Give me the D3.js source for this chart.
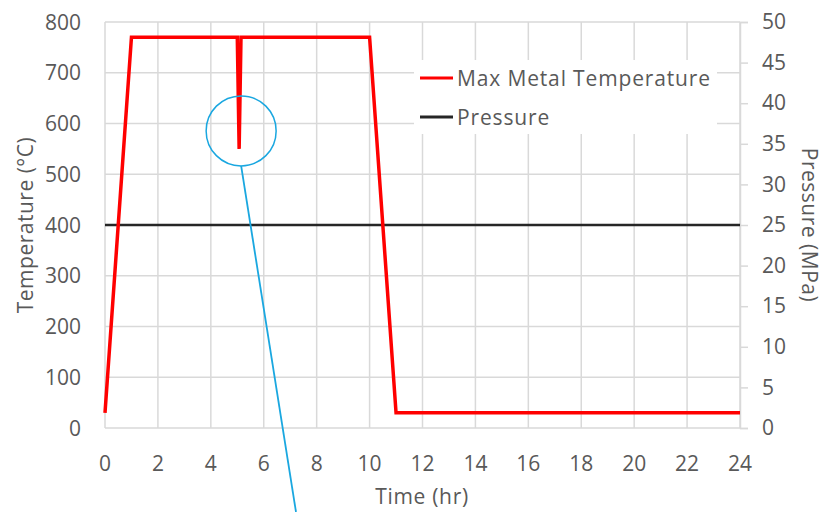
<!DOCTYPE html>
<html>
<script src='https://d3js.org/d3.v7.min.js'></script>
<style>
body {margin: 0; background: white;}
text {font-family: 'Open Sans', sans-serif; fill: #595959;}
</style>
<body onload='init()'>
<script>
// temperature profile (hr, °C)
var timeHr = [0, 1, 5, 5.07, 5.14, 10, 11, 24];
var metalTemp = [30, 770, 770, 550, 770, 770, 30, 30];
// pressure (hr, MPa)
var pressTime = [0, 24];
var pressure = [25, 25];

var xTicks = [0, 2, 4, 6, 8, 10, 12, 14, 16, 18, 20, 22, 24];
var tempTicks = [0, 100, 200, 300, 400, 500, 600, 700, 800];
var pressTicks = [0, 5, 10, 15, 20, 25, 30, 35, 40, 45, 50];
var seriesNames = ['Max Metal Temperature', 'Pressure'];

function init() {
  var svg = d3.select('body').append('svg')
    .attr('width', 827)
    .attr('height', 512);

  var x = d3.scaleLinear().domain([0, 24]).range([105, 740]);
  var y = d3.scaleLinear().domain([0, 800]).range([428, 22]);
  var y2 = d3.scaleLinear().domain([0, 50]).range([428, 22]);

  // grid
  svg.append('g').selectAll('line').data(tempTicks).enter().append('line')
    .attr('x1', 105).attr('x2', 740)
    .attr('y1', function(d) { return y(d); })
    .attr('y2', function(d) { return y(d); })
    .attr('stroke', '#d9d9d9').attr('stroke-width', 1.5);

  svg.append('g').selectAll('line').data(xTicks).enter().append('line')
    .attr('x1', function(d) { return x(d); })
    .attr('x2', function(d) { return x(d); })
    .attr('y1', 22).attr('y2', 428)
    .attr('stroke', '#d9d9d9').attr('stroke-width', 1.5);

  // bottom axis labels
  svg.append('g').selectAll('text').data(xTicks).enter().append('text')
    .attr('x', function(d) { return x(d); })
    .attr('y', 471)
    .attr('text-anchor', 'middle')
    .style('font-size', '21px')
    .text(function(d) { return d; });

  // left axis labels
  svg.append('g').selectAll('text').data(tempTicks).enter().append('text')
    .attr('x', 81)
    .attr('y', function(d) { return y(d); })
    .attr('dy', '0.36em')
    .attr('text-anchor', 'end')
    .style('font-size', '21px')
    .text(function(d) { return d; });

  // right axis
  var right = svg.append('g')
    .attr('transform', 'translate(740,0)')
    .call(d3.axisRight(y2).tickValues(pressTicks).tickSize(8).tickPadding(14));
  right.select('.domain').attr('stroke', '#d9d9d9').attr('stroke-width', 1.5);
  right.selectAll('.tick line').attr('stroke', '#d9d9d9').attr('stroke-width', 1.5);
  right.selectAll('.tick text')
    .style('font-family', "'Open Sans', sans-serif")
    .style('font-size', '21px')
    .attr('fill', '#595959');

  // pressure line
  var pLine = d3.line()
    .x(function(d, i) { return x(pressTime[i]); })
    .y(function(d) { return y2(d); });
  svg.append('path')
    .datum(pressure)
    .attr('d', pLine)
    .attr('fill', 'none')
    .attr('stroke', '#262626')
    .attr('stroke-width', 2.5);

  // temperature line
  var tLine = d3.line()
    .x(function(d, i) { return x(timeHr[i]); })
    .y(function(d) { return y(d); });
  svg.append('path')
    .datum(metalTemp)
    .attr('d', tLine)
    .attr('fill', 'none')
    .attr('stroke', '#ff0000')
    .attr('stroke-width', 3.5);

  // legend
  svg.append('rect')
    .attr('x', 414).attr('y', 60)
    .attr('width', 303).attr('height', 74)
    .attr('fill', 'white');
  var colors = ['#ff0000', '#262626'];
  var leg = svg.append('g').selectAll('g').data(seriesNames).enter().append('g')
    .attr('transform', function(d, i) { return 'translate(420,' + (78 + i * 39) + ')'; });
  leg.append('line')
    .attr('x1', 0).attr('x2', 33)
    .attr('stroke', function(d, i) { return colors[i]; })
    .attr('stroke-width', 3);
  leg.append('text')
    .attr('x', 37)
    .attr('dy', '0.36em')
    .style('font-size', '21px')
    .style('letter-spacing', '0.85px')
    .text(function(d) { return d; });

  // axis titles
  svg.append('text')
    .attr('x', 422).attr('y', 504)
    .attr('text-anchor', 'middle')
    .style('font-size', '21px')
    .style('letter-spacing', '0.7px')
    .text('Time (hr)');

  svg.append('text')
    .attr('transform', 'translate(33,225)rotate(-90)')
    .attr('text-anchor', 'middle')
    .style('font-size', '21px')
    .style('letter-spacing', '0.5px')
    .text('Temperature (°C)');

  svg.append('text')
    .attr('transform', 'translate(802,225)rotate(90)')
    .attr('text-anchor', 'middle')
    .style('font-size', '21px')
    .style('letter-spacing', '0.5px')
    .text('Pressure (MPa)');

  // callout around the dip
  var dipT = timeHr[3], dipV = metalTemp[3];
  svg.append('circle')
    .attr('cx', x(dipT) + 2).attr('cy', y(dipV) - 18)
    .attr('r', 35)
    .attr('fill', 'none')
    .attr('stroke', '#1aa7e0')
    .attr('stroke-width', 1.5);
  svg.append('line')
    .attr('x1', x(dipT) + 2).attr('y1', y(dipV) + 17)
    .attr('x2', 296).attr('y2', 512)
    .attr('stroke', '#1aa7e0')
    .attr('stroke-width', 1.8);
}
</script>
</body>
</html>
